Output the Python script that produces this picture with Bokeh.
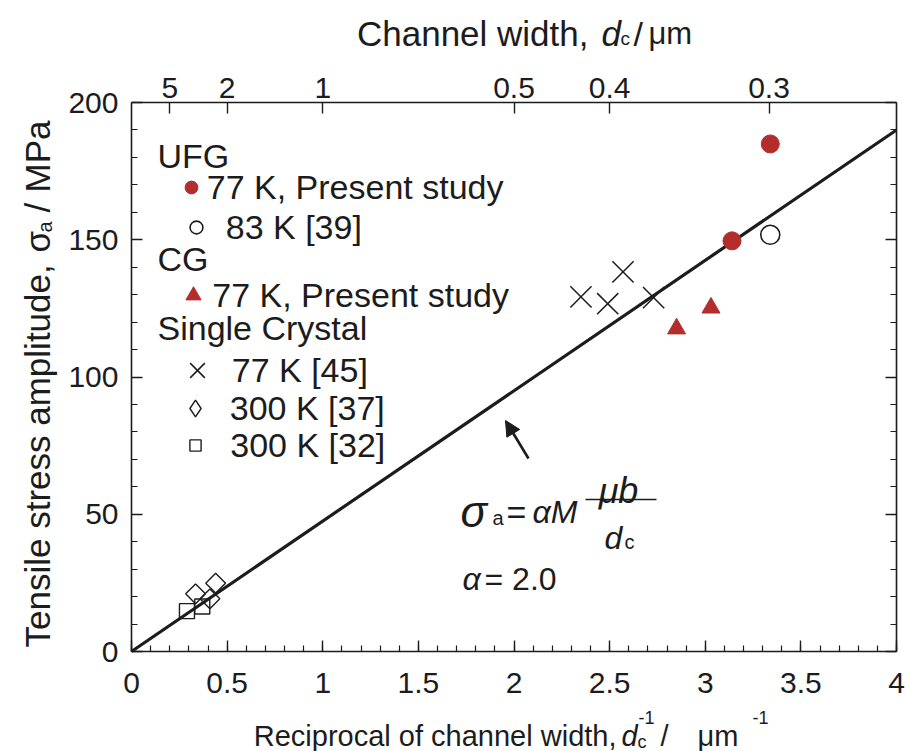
import math
from bokeh.plotting import figure
from bokeh.models import (Range1d, LinearAxis, FixedTicker, Label, Arrow, NormalHead,
                          Legend, LegendItem)
from bokeh.embed import file_html
from bokeh.resources import INLINE

# ---------------- data ----------------
ufg77_x = [3.14, 3.34]
ufg77_y = [149.6, 184.9]
ufg83_x = [3.34]
ufg83_y = [151.8]
cg77_x = [2.85, 3.03]
cg77_y = [117.6, 125.2]
sc77_x = [2.35, 2.49, 2.57, 2.73]
sc77_y = [129.2, 126.7, 138.3, 128.9]
sc300_37_x = [0.335, 0.41, 0.44]
sc300_37_y = [21.0, 19.2, 24.9]
sc300_32_x = [0.29, 0.37]
sc300_32_y = [14.7, 16.4]
fit_x = [0.0, 4.0]
fit_y = [0.0, 190.0]

x_ticks = [0, 0.5, 1, 1.5, 2, 2.5, 3, 3.5, 4]
x_tick_labels = ["0", "0.5", "1", "1.5", "2", "2.5", "3", "3.5", "4"]
y_ticks = [0, 50, 100, 150, 200]
y_tick_labels = ["0", "50", "100", "150", "200"]
top_widths_um = [5, 2, 1, 0.5, 0.4, 0.3]
top_tick_labels = ["5", "2", "1", "0.5", "0.4", "0.3"]

# ---------------- styling ----------------
FONT = "Liberation Sans"
INK = "#1c1c1c"
RED = "#b32d2d"
W, H = 905, 751
# page pixels of the data box (x 0..4, y 0..200)
FL, FR, FT, FB = 131, 896, 102, 651


def dx(px):
    return (px - FL) / (FR - FL) * 4.0


def dy(py):
    return (FB - py) / (FB - FT) * 200.0


# the frame fills the whole canvas; the axes are drawn at fixed data locations
p = figure(width=W, height=H, x_range=Range1d(dx(0), dx(W)), y_range=Range1d(dy(H), dy(0)),
           x_axis_location=None, y_axis_location=None,
           output_backend="svg", toolbar_location=None,
           min_border_left=0, min_border_right=0, min_border_top=0, min_border_bottom=0)
p.outline_line_color = None
p.background_fill_color = "white"
p.border_fill_color = "white"
p.grid.visible = False


def style_axis(ax, size, standoff):
    ax.axis_line_color = INK
    ax.axis_line_width = 1.6
    ax.major_tick_line_color = INK
    ax.major_tick_line_width = 1.4
    ax.minor_tick_line_color = INK
    ax.minor_tick_line_width = 1.2
    ax.major_tick_in = 11
    ax.major_tick_out = 0
    ax.minor_tick_in = 6
    ax.minor_tick_out = 0
    ax.major_label_text_font = FONT
    ax.major_label_text_font_size = f"{size}px"
    ax.major_label_text_color = INK
    ax.major_label_standoff = standoff


x_minor = [i / 10 for i in range(41)]
y_minor = list(range(0, 201, 10))

xb = LinearAxis(ticker=FixedTicker(ticks=x_ticks, minor_ticks=x_minor),
                major_label_overrides=dict(zip(x_ticks, x_tick_labels)),
                fixed_location=0, bounds=(0, 4))
style_axis(xb, 30, 21)
p.add_layout(xb, "below")

top_pos = [1.0 / w for w in top_widths_um]
xt = LinearAxis(ticker=FixedTicker(ticks=top_pos, minor_ticks=[]),
                major_label_overrides=dict(zip(top_pos, top_tick_labels)),
                fixed_location=200, bounds=(0, 4))
style_axis(xt, 30, 5)
p.add_layout(xt, "above")

yl = LinearAxis(ticker=FixedTicker(ticks=y_ticks, minor_ticks=y_minor),
                major_label_overrides=dict(zip(y_ticks, y_tick_labels)),
                fixed_location=0, bounds=(0, 200))
style_axis(yl, 30, 13)
p.add_layout(yl, "left")

yr = LinearAxis(ticker=FixedTicker(ticks=y_ticks, minor_ticks=y_minor),
                major_label_overrides={t: "" for t in y_ticks},
                fixed_location=4, bounds=(0, 200))
style_axis(yr, 1, 0)
p.add_layout(yr, "right")

# ---------------- data marks ----------------
p.line(fit_x, fit_y, line_width=3.2, line_color=INK)

r_ufg77 = p.scatter(ufg77_x, ufg77_y, marker="circle", size=18,
                    fill_color=RED, line_color=RED)
r_ufg83 = p.scatter(ufg83_x, ufg83_y, marker="circle", size=19,
                    fill_color="white", line_color=INK, line_width=1.6)
r_cg77 = p.scatter(cg77_x, cg77_y, marker="triangle", size=18,
                   fill_color=RED, line_color=RED)
r_sc77 = p.scatter(sc77_x, sc77_y, marker="x", size=30,
                   line_color=INK, line_width=1.5)
r_sc37 = p.scatter(sc300_37_x, sc300_37_y, marker="square", size=14, angle=math.pi / 4,
                   fill_color=None, line_color=INK, line_width=1.4)
r_sc32 = p.scatter(sc300_32_x, sc300_32_y, marker="square", size=15,
                   fill_color=None, line_color=INK, line_width=1.4)
# hidden twin of the 300 K [37] series, used only for its diamond legend key
r_sc37_key = p.scatter(sc300_37_x, sc300_37_y, marker="diamond", size=14,
                       fill_color=None, line_color=INK, line_width=1.4, visible=False)


# ---------------- legend: one small legend per entry ----------------
def legend_entry(label, renderer, cx, cy, text_x, key_size, row_h=44):
    gw = key_size / 0.4
    if gw > row_h:
        row_h = gw
    vx = cx - gw / 2
    standoff = int(round(text_x - (vx + gw)))
    lg = Legend(items=[LegendItem(label=label, renderers=[renderer])],
                location=(vx, H - (cy + row_h / 2)),
                label_text_font=FONT, label_text_font_size="34px", label_text_color=INK,
                glyph_width=int(round(gw)), glyph_height=int(round(row_h)),
                label_height=int(round(row_h)), label_standoff=standoff,
                spacing=0, padding=0, margin=0, inactive_fill_alpha=0,
                border_line_color=None, background_fill_alpha=0)
    p.add_layout(lg)


legend_entry("77 K, Present study", r_ufg77, 191, 187, 207, 13)
legend_entry("83 K [39]", r_ufg83, 196, 227, 226, 13)
legend_entry("77 K, Present study", r_cg77, 193, 295, 207, 15)
legend_entry("77 K [45]", r_sc77, 197, 370, 232, 21)
legend_entry("300 K [37]", r_sc37_key, 195, 408, 230, 17)
legend_entry("300 K [32]", r_sc32, 195, 445, 230, 11)


def lab(px, py, text, size, italic=False, align="left", baseline="alphabetic",
        angle=0.0):
    p.add_layout(Label(x=dx(px), y=dy(py), text=text, text_font=FONT,
                       text_font_size=f"{size}px",
                       text_font_style="italic" if italic else "normal",
                       text_color=INK, text_align=align, text_baseline=baseline,
                       angle=angle))


# legend headers
lab(157, 155, "UFG", 34, baseline="middle")
lab(157, 258, "CG", 34, baseline="middle")
lab(157, 327, "Single Crystal", 34, baseline="middle")

# bottom axis title
lab(616, 735, "Reciprocal of channel width,", 29, align="right")
lab(621, 735, "d", 29, italic=True)
lab(637, 741, "c", 18)
lab(638, 717, "-1", 18)
lab(660, 735, "/", 29)
lab(697, 735, "\u03bcm", 29)
lab(752, 717, "-1", 18)

# top axis title
lab(588, 33, "Channel width,", 35, align="right")
lab(601, 33, "d", 35, italic=True)
lab(620, 38, "c", 19)
lab(633, 33, "/", 34)
lab(648, 33, "\u03bcm", 31)

# left axis title (rotated)
ang = math.pi / 2
lab(37, 647, "Tensile stress amplitude,", 35, angle=ang)
lab(37, 252, "\u03c3", 35, angle=ang)
lab(44, 232, "a", 20, angle=ang)
lab(37, 212, "/", 35, angle=ang)
lab(37, 192, "MPa", 35, angle=ang)

# formula
lab(460, 511, "\u03c3", 44, italic=True)
lab(492, 517, "a", 20)
lab(506, 511, "=", 34)
lab(532, 511, "\u03b1M", 32, italic=True)
lab(618, 490, "\u03bcb", 36, italic=True, align="center")
lab(604, 537, "d", 32, italic=True)
lab(624, 541, "c", 20)
lab(462, 578, "\u03b1", 32, italic=True)
lab(484, 578, "= 2.0", 32)

p.add_layout(Arrow(start=None, end=None, x_start=dx(585), y_start=dy(499),
                   x_end=dx(656), y_end=dy(499), line_width=1.6, line_color=INK))
p.add_layout(Arrow(end=NormalHead(size=15, fill_color=INK, line_color=INK),
                   x_start=dx(528), y_start=dy(458), x_end=dx(505), y_end=dy(420),
                   line_width=2.6, line_color=INK))

open("out.html", "w").write(file_html(p, INLINE))
